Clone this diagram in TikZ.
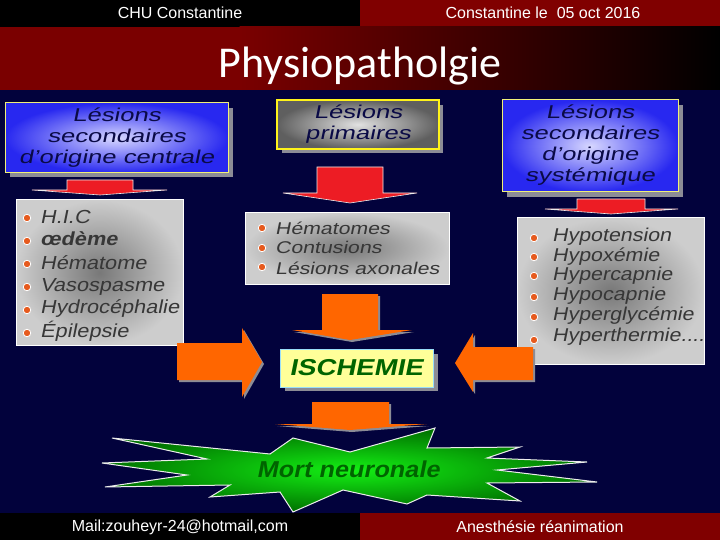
\documentclass[tikz,border=0pt]{standalone}
\usepackage{fontspec}
\setmainfont{Liberation Sans}
\newfontfamily\titlefont{Carlito}
\newfontfamily\hdfont[FakeStretch=1.38,FakeSlant=0.2]{Liberation Sans}
\newfontfamily\lfont[FakeStretch=1.15,FakeSlant=0.2]{Liberation Sans}
\newfontfamily\cfont[FakeStretch=1.25,FakeSlant=0.2]{Liberation Sans}
\newfontfamily\isfont[FakeStretch=1.2,FakeSlant=0.2]{Liberation Sans}
\newfontfamily\mnfont[FakeStretch=1.1,FakeSlant=0.2]{Liberation Sans}
\definecolor{navy}{RGB}{2,2,60}
\definecolor{dred}{RGB}{122,0,0}
\definecolor{hred}{RGB}{128,0,0}
\definecolor{orng}{RGB}{255,102,0}
\definecolor{rred}{RGB}{237,28,36}
\definecolor{txtnavy}{RGB}{10,10,70}
\definecolor{txtgrey}{RGB}{55,55,55}
\definecolor{bulc}{RGB}{230,90,30}
\definecolor{ischfill}{RGB}{255,255,153}
\definecolor{ischtxt}{RGB}{0,100,0}
\definecolor{blueout}{RGB}{40,40,240}
\definecolor{bluein}{RGB}{215,215,255}
\definecolor{greyout}{RGB}{205,205,205}
\definecolor{greyin}{RGB}{120,120,120}
\definecolor{pgreyout}{RGB}{95,95,95}
\definecolor{pgreyin}{RGB}{225,225,225}
\definecolor{shadowc}{RGB}{140,140,150}
\definecolor{starin}{RGB}{20,240,20}
\definecolor{starout}{RGB}{0,115,0}
\definecolor{ybord}{RGB}{240,240,120}
\tikzset{
  hd/.style={font=\hdfont\fontsize{18.6}{21}\selectfont, text=txtnavy, align=center, inner sep=0},
  li/.style={font=\lfont\fontsize{18.9}{22}\selectfont, text=txtgrey, anchor=base west, inner sep=0},
  lr/.style={font=\lfont\fontsize{18.6}{20}\selectfont, text=txtgrey, anchor=base west, inner sep=0},
  lc/.style={font=\cfont\fontsize{17}{20}\selectfont, text=txtgrey, anchor=base west, inner sep=0},
  bul/.style={circle, fill=bulc, draw=white, line width=0.8pt, minimum size=7.5pt, inner sep=0},
  hdr/.style={text=white, font=\fontsize{16}{18}\selectfont, inner sep=0},
  orarrow/.style={fill=orng},
  orshadow/.style={fill=shadowc},
  redarrow/.style={fill=rred, draw=white!85!gray, line width=0.6pt},
}
\begin{document}
\begin{tikzpicture}[x=1pt,y=-1pt]
\useasboundingbox (0,0) rectangle (720,540);
% backgrounds
\fill[navy] (0,0) rectangle (720,540);
\fill[black] (0,0) rectangle (360,27);
\fill[hred] (360,0) rectangle (720,27);
\fill[dred] (0,27) rectangle (240,90);
\shade[left color=dred, right color=black] (239.5,27) rectangle (720,90);
\fill[black] (0,513) rectangle (360,540);
\fill[hred] (360,513) rectangle (720,540);
\node[hdr] (chu) at (180,13) {CHU Constantine};
\node[hdr] (date) at (543,13) {Constantine le\ \ 05 oct 2016};
\node[hdr] (mail) at (180,527) {Mail:zouheyr-24@hotmail,com};
\node[hdr] (anes) at (540,527) {Anesthésie réanimation};
\node[text=white, font=\titlefont\fontsize{44}{48}\selectfont, inner sep=0] (title) at (360,66) {Physiopatholgie};

% ---- left heading box
\fill[shadowc] (10,108) rectangle (233,177);
\shade[inner color=bluein, outer color=blueout] (5,103) rectangle (228,173);
\draw[ybord, line width=1pt] (5,103) rectangle (228,173);
\node[hd] (lhead) at (116.5,138) {Lésions\\secondaires\\d’origine centrale};
% left red arrow
\fill[redarrow] (67,180) -- (133,180) -- (133,190) -- (167,190) -- (100,195) -- (32,190) -- (67,190) -- cycle;
% left list box
\shade[inner color=greyin, outer color=greyout] (16,200) rectangle (183,345);
\draw[white, line width=1pt] (16,200) rectangle (183,345);
\node[bul] (lb1) at (27,218) {};
\node[bul] (lb2) at (27,241) {};
\node[bul] (lb3) at (27,264) {};
\node[bul] (lb4) at (27,287) {};
\node[bul] (lb5) at (27,310) {};
\node[bul] (lb6) at (27,333) {};
\node[li] (l1) at (40,223) {H.I.C};
\node[li] (l2) at (40,245) {\bfseries œdème};
\node[li] (l3) at (40,269) {Hématome};
\node[li] (l4) at (40,291) {Vasospasme};
\node[li] (l5) at (40,313) {Hydrocéphalie};
\node[li] (l6) at (40,337) {Épilepsie};

% ---- centre heading box
\fill[shadowc] (282,105) rectangle (443,153);
\shade[inner color=pgreyin, outer color=pgreyout] (277,100) rectangle (439,149);
\draw[yellow!90!white, line width=1.2pt] (277,100) rectangle (439,149);
\node[hd] (chead) at (358,124) {Lésions\\primaires};
% centre red arrow
\fill[redarrow] (317,167) -- (383,167) -- (383,193) -- (417,193) -- (350,203) -- (283,193) -- (317,193) -- cycle;
% centre list box
\shade[inner color=greyin, outer color=greyout] (245,213) rectangle (449,284);
\draw[white, line width=1pt] (245,213) rectangle (449,284);
\node[bul] (cb1) at (262,228) {};
\node[bul] (cb2) at (262,248) {};
\node[bul] (cb3) at (262,267) {};
\node[lc] (c1) at (275,234) {Hématomes};
\node[lc] (c2) at (275,254) {Contusions};
\node[lc] (c3) at (275,274) {Lésions axonales};

% ---- right heading box
\fill[shadowc] (507,105) rectangle (683,197);
\shade[inner color=bluein, outer color=blueout] (502,100) rectangle (678,192);
\draw[ybord, line width=1pt] (502,100) rectangle (678,192);
\node[hd] (rhead) at (590,145) {Lésions\\secondaires\\d’origine\\systémique};
% right red arrow
\fill[redarrow] (577,199) -- (645,199) -- (645,209) -- (678,209) -- (611,214) -- (545,209) -- (577,209) -- cycle;
% right list box
\shade[inner color=greyin, outer color=greyout] (517,218) rectangle (704,364);
\draw[white, line width=1pt] (517,218) rectangle (704,364);
\node[bul] (rb1) at (534,238) {};
\node[bul] (rb2) at (534,257) {};
\node[bul] (rb3) at (534,276) {};
\node[bul] (rb4) at (534,297) {};
\node[bul] (rb5) at (534,317) {};
\node[bul] (rb6) at (534,340) {};
\node[lr] (r1) at (552,241) {Hypotension};
\node[lr] (r2) at (552,261) {Hypoxémie};
\node[lr] (r3) at (552,280) {Hypercapnie};
\node[lr] (r4) at (552,300) {Hypocapnie};
\node[lr] (r5) at (552,320) {Hyperglycémie};
\node[lr] (r6) at (552,341) {Hyperthermie....};

% ---- orange arrows
% centre top down
\fill[orshadow] (324,296) -- (380,296) -- (380,332) -- (414,332) -- (352,342) -- (294,332) -- (324,332) -- cycle;
\fill[orarrow] (322,294) -- (378,294) -- (378,330) -- (412,330) -- (350,340) -- (292,330) -- (322,330) -- cycle;
% left, pointing right
\fill[orshadow] (179,345) -- (244,345) -- (244,330) -- (264,364) -- (244,399) -- (244,382) -- (179,382) -- cycle;
\fill[orarrow] (177,343) -- (242,343) -- (242,328) -- (262,362) -- (242,397) -- (242,380) -- (177,380) -- cycle;
% right, pointing left
\fill[orshadow] (535,349) -- (475,349) -- (475,335) -- (457,365) -- (475,394) -- (475,382) -- (535,382) -- cycle;
\fill[orarrow] (533,347) -- (473,347) -- (473,333) -- (455,363) -- (473,392) -- (473,380) -- (533,380) -- cycle;
% bottom down
\fill[orshadow] (314,404) -- (391,404) -- (391,426) -- (429,426) -- (352,432) -- (277,426) -- (314,426) -- cycle;
\fill[orarrow] (312,402) -- (389,402) -- (389,424) -- (427,424) -- (350,430) -- (275,424) -- (312,424) -- cycle;

% ---- ISCHEMIE
\fill[shadowc] (285,354) rectangle (438,391);
\fill[ischfill] (280,349) rectangle (433,387);
\draw[cyan!40!white, line width=0.8pt] (280,349) rectangle (433,387);
\node[text=ischtxt, font=\isfont\bfseries\fontsize{23}{25}\selectfont, inner sep=0] (isch) at (356,368) {ISCHEMIE};

% ---- star
\shade[inner color=starin, outer color=starout, draw=white!85!gray, line width=1pt]
 (293,438) -- (350,452) -- (435,428) -- (427,448) -- (520,447) -- (487,458) -- (587,462)
 -- (497,470) -- (597,482) -- (487,483) -- (520,501) -- (427,495) -- (407,504) -- (343,490)
 -- (293,512) -- (280,492) -- (210,497) -- (230,485) -- (105,487) -- (187,475) -- (102,463)
 -- (207,459) -- (112,438) -- (270,454) -- cycle;
\node[text=ischtxt, font=\mnfont\bfseries\fontsize{23}{25}\selectfont, inner sep=0] (mort) at (348,469) {Mort neuronale};
\end{tikzpicture}
\end{document}
